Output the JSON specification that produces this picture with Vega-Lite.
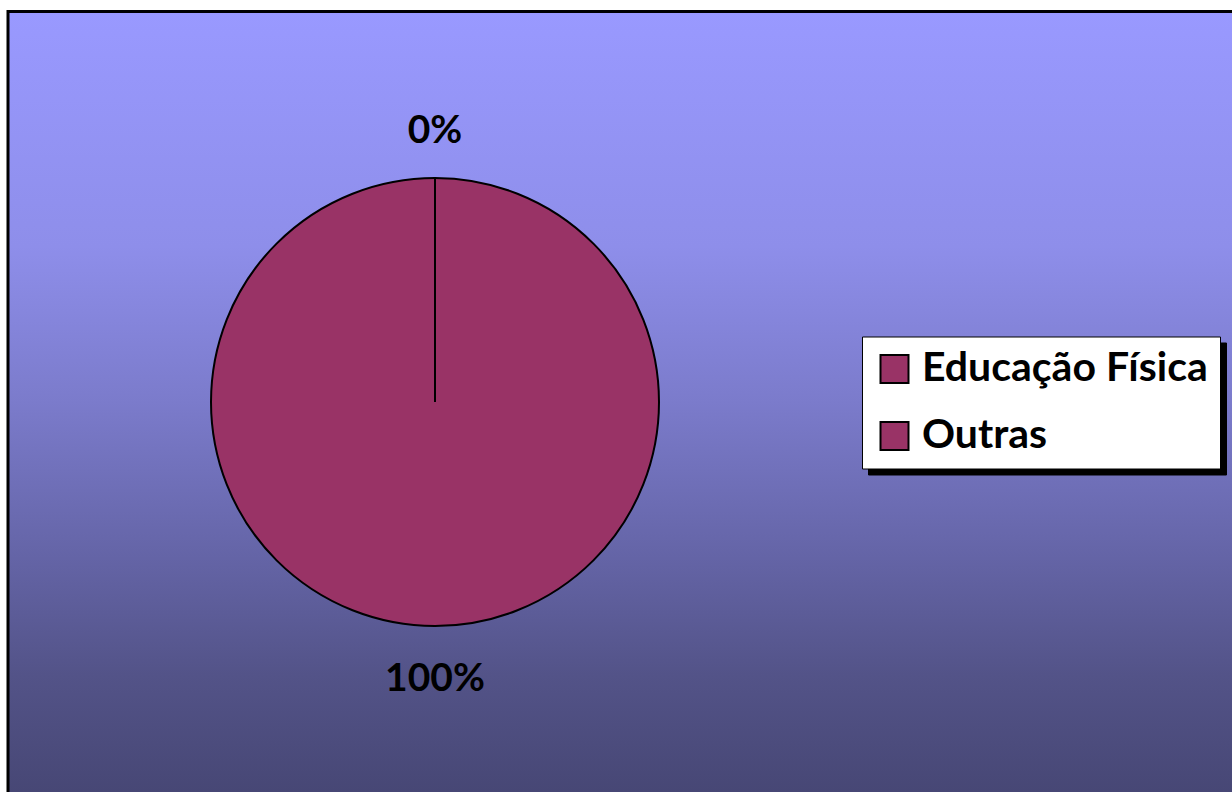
{
  "$schema": "https://vega.github.io/schema/vega-lite/v6.json",
  "padding": {"left": 5, "top": 8.5, "right": 0, "bottom": 0},
  "background": "white",
  "spacing": 0,
  "bounds": "flush",
  "config": {"view": {"stroke": null}, "font": "Lato"},
  "hconcat": [
    {
      "width": 854,
      "height": 781,
      "data": {"values": [
        {"categoria": "Educação Física", "valor": 0, "rotulo": "0%"},
        {"categoria": "Outras", "valor": 100, "rotulo": "100%"}
      ]},
      "layer": [
        {
          "data": {"values": [{}]},
          "mark": {
            "type": "rect",
            "fill": {"gradient": "linear", "x1": 0, "y1": 0, "x2": 0, "y2": 1, "stops": [
              {"offset": 0, "color": "#9999FF"},
              {"offset": 0.3, "color": "#8E8EEA"},
              {"offset": 0.5, "color": "#7B7BCB"},
              {"offset": 0.7, "color": "#6464A6"},
              {"offset": 0.85, "color": "#535388"},
              {"offset": 1, "color": "#474775"}
            ]},
            "stroke": "black",
            "strokeWidth": 3,
            "strokeCap": "square",
            "strokeDash": [854, 1635, 781, 0]
          },
          "encoding": {}
        },
        {
          "mark": {"type": "arc", "outerRadius": 224},
          "encoding": {
            "theta": {"field": "valor", "type": "quantitative", "stack": true},
            "fill": {
              "field": "categoria", "type": "nominal",
              "scale": {"range": ["#993366", "#993366"]},
              "legend": {
                "title": null, "orient": "none", "legendX": 854, "legendY": 325,
                "fillColor": "white", "strokeColor": "black",
                "padding": 12, "symbolType": "square", "symbolSize": 784,
                "symbolStrokeColor": "black", "symbolStrokeWidth": 2,
                "labelFont": "Lato", "labelFontSize": 41, "labelFontWeight": "bold",
                "labelColor": "black", "labelOffset": 7, "rowPadding": 25,
                "labelLimit": 500, "zindex": 2
              }
            }
          }
        },
        {
          "mark": {"type": "arc", "outerRadius": 224, "filled": false, "strokeWidth": 2},
          "encoding": {
            "theta": {"field": "valor", "type": "quantitative", "stack": true},
            "color": {
              "field": "categoria", "type": "nominal",
              "scale": {"domain": ["Educação Física", "Outras"], "range": ["black", "black"]},
              "legend": {
                "title": null, "orient": "none", "legendX": 860, "legendY": 331,
                "fillColor": "black", "strokeColor": "black",
                "padding": 12, "symbolType": "square", "symbolSize": 784,
                "symbolStrokeColor": "black", "symbolStrokeWidth": 2,
                "labelFont": "Lato", "labelFontSize": 41, "labelFontWeight": "bold",
                "labelColor": "black", "labelOpacity": 0, "labelOffset": 7, "rowPadding": 25,
                "labelLimit": 500, "zindex": 1
              }
            }
          }
        },
        {
          "mark": {"type": "text", "radius": 274, "dy": 2.5, "fontSize": 39, "fontWeight": "bold", "font": "Lato", "color": "black", "baseline": "middle"},
          "encoding": {
            "theta": {"field": "valor", "type": "quantitative", "stack": true},
            "detail": {"field": "categoria", "type": "nominal"},
            "text": {"field": "rotulo", "type": "nominal"}
          }
        }
      ]
    },
    {
      "width": 380,
      "height": 781,
      "data": {"values": [{}]},
      "mark": {
        "type": "rect",
        "fill": {"gradient": "linear", "x1": 0, "y1": 0, "x2": 0, "y2": 1, "stops": [
          {"offset": 0, "color": "#9999FF"},
          {"offset": 0.3, "color": "#8E8EEA"},
          {"offset": 0.5, "color": "#7B7BCB"},
          {"offset": 0.7, "color": "#6464A6"},
          {"offset": 0.85, "color": "#535388"},
          {"offset": 1, "color": "#474775"}
        ]},
        "stroke": "black",
        "strokeWidth": 3,
        "strokeCap": "square",
        "strokeDash": [380, 1942]
      },
      "encoding": {}
    }
  ]
}
